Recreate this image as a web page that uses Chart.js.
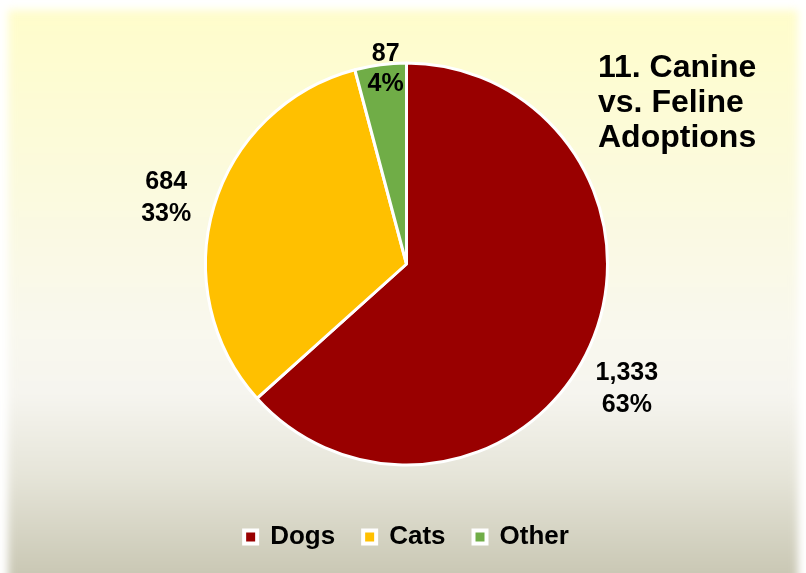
<!DOCTYPE html>
<html>
<head>
<meta charset="utf-8">
<script src="https://cdn.jsdelivr.net/npm/chart.js@4"></script>
<style>
  html, body { margin: 0; padding: 0; background: #fff; overflow: hidden; }
  #wrap { position: relative; width: 806px; height: 573px; overflow: hidden; background: #fff; }
  #panel {
    position: absolute; left: 8px; top: 10px; width: 790px; height: 620px;
    background: linear-gradient(180deg, #FFFDCB 0%, #FBFADF 30%, #F9F8EE 52%, #F6F5EF 62%, #E6E5D9 75%, #C8C6B2 92%, #C6C4B0 100%);
    filter: blur(4px);
  }
  #title {
    position: absolute; left: 598px; top: 49px;
    font: bold 32px "Liberation Sans", Arial, sans-serif; line-height: 35px; color: #000;
  }
  canvas { position: absolute; left: 0; top: 0; }
</style>
</head>
<body>
<div id="wrap">
  <div id="panel"></div>
  <canvas id="pie" width="806" height="573"></canvas>
  <div id="title">11. Canine<br>vs. Feline<br>Adoptions</div>
</div>
<script>
// chart data
const categories = ['Dogs', 'Cats', 'Other'];
const adoptions = [1333, 684, 87];
const sliceColors = ['#990000', '#FFC000', '#70AD47'];

// where each label line sits: radius factor, angle shift (deg), vertical shift
const labelSpots = [
    [{ r: 1.26, da: 5.5, dy: -16 }, { r: 1.26, da: 5.5, dy: 16 }],
    [{ r: 1.24, da: -1.2, dy: -16 }, { r: 1.24, da: -1.2, dy: 16 }],
    [{ r: 1.05, da: 1.8, dy: 0 }, { r: 0.90, da: 0.8, dy: 0 }]
];

const pieLabels = {
    id: 'pieLabels',
    afterDatasetsDraw: function (chart) {
        const ctx = chart.ctx;
        const meta = chart.getDatasetMeta(0);
        const values = chart.data.datasets[0].data;
        const total = values.reduce((a, b) => a + b, 0);
        ctx.save();
        ctx.font = 'bold 25px "Liberation Sans", Arial, sans-serif';
        ctx.fillStyle = '#000';
        ctx.textAlign = 'center';
        ctx.textBaseline = 'middle';
        meta.data.forEach(function (arc, i) {
            const mid = (arc.startAngle + arc.endAngle) / 2;
            const lines = [values[i].toLocaleString('en-US'), Math.round(values[i] / total * 100) + '%'];
            lines.forEach(function (txt, j) {
                const spot = labelSpots[i][j];
                const a = mid + spot.da * Math.PI / 180;
                const x = arc.x + Math.cos(a) * arc.outerRadius * spot.r;
                const y = arc.y + Math.sin(a) * arc.outerRadius * spot.r + spot.dy;
                ctx.fillText(txt, x, y);
            });
        });
        ctx.restore();
    }
};

new Chart(document.getElementById('pie'), {
    type: 'pie',
    data: {
        labels: categories,
        datasets: [{
            data: adoptions,
            backgroundColor: sliceColors,
            borderColor: '#ffffff',
            borderWidth: 3
        }]
    },
    options: {
        responsive: false,
        animation: false,
        layout: { padding: { left: 204, right: 197, top: 32, bottom: 13 } },
        plugins: {
            tooltip: { enabled: false },
            legend: {
                position: 'bottom',
                labels: {
                    font: { family: '"Liberation Sans", Arial, sans-serif', size: 26, weight: 'bold' },
                    color: '#000',
                    boxWidth: 13,
                    boxHeight: 13,
                    padding: 28,
                    generateLabels: function (chart) {
                        return chart.data.labels.map(function (label, i) {
                            return {
                                text: label,
                                fillStyle: sliceColors[i],
                                strokeStyle: '#ffffff',
                                lineWidth: 4,
                                fontColor: '#000',
                                index: i
                            };
                        });
                    }
                }
            }
        }
    },
    plugins: [pieLabels]
});
</script>
</body>
</html>
